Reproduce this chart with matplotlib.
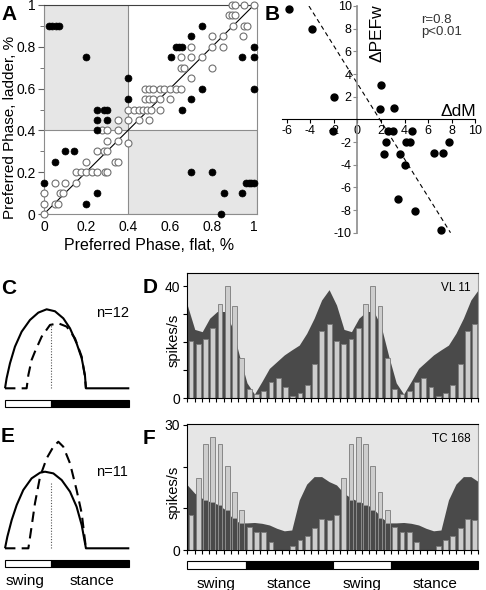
import numpy as np
import matplotlib
matplotlib.use("Agg")
import matplotlib.pyplot as plt
from matplotlib.patches import Rectangle

plt.rcParams['font.family'] = ['Liberation Sans', 'DejaVu Sans']

# ---------------- data ----------------
# Panel A: preferred phase flat vs ladder
a_filled_x = [0.025, 0.04, 0.055, 0.07, 0.2, 0.4, 0.4, 0.25, 0.285, 0.3, 0.25, 0.3, 0.25,
              0.1, 0.145, 0.053, 0.0, 0.25, 0.2, 0.75, 0.7, 0.63, 0.645, 0.655, 0.605,
              0.75, 0.7, 0.655, 1.0, 0.945, 1.0, 1.0, 0.7, 0.8, 0.855, 0.945, 0.845,
              0.96, 0.975, 0.988, 1.0]
a_filled_y = [0.9, 0.9, 0.9, 0.9, 0.75, 0.65, 0.55, 0.5, 0.5, 0.5, 0.45, 0.45, 0.4,
              0.3, 0.3, 0.25, 0.15, 0.1, 0.05, 0.9, 0.85, 0.8, 0.8, 0.8, 0.75,
              0.6, 0.55, 0.5, 0.8, 0.75, 0.75, 0.6, 0.2, 0.2, 0.1, 0.1, 0.0,
              0.15, 0.15, 0.15, 0.15]
a_open_x = [0.893, 0.909, 0.952, 1.0, 0.88, 0.895, 0.91, 0.9, 0.952, 0.968,
            0.8, 0.85, 0.947, 0.7, 0.8, 0.85, 0.65, 0.7, 0.75, 0.65, 0.667, 0.8, 0.7,
            0.48, 0.5, 0.52, 0.55, 0.57, 0.6, 0.63, 0.65,
            0.48, 0.5, 0.52, 0.55, 0.6,
            0.4, 0.43, 0.45, 0.47, 0.49, 0.51, 0.55,
            0.35, 0.4, 0.45, 0.5, 0.275, 0.3, 0.35, 0.4, 0.3, 0.35,
            0.25, 0.285, 0.3, 0.2, 0.34, 0.35,
            0.15, 0.177, 0.2, 0.23, 0.25, 0.29, 0.3,
            0.053, 0.1, 0.15, 0.0, 0.076, 0.092, 0.0, 0.053, 0.068, 0.0]
a_open_y = [1.0, 1.0, 1.0, 1.0, 0.95, 0.95, 0.95, 0.9, 0.9, 0.9,
            0.85, 0.85, 0.85, 0.8, 0.8, 0.8, 0.75, 0.75, 0.75, 0.7, 0.7, 0.7, 0.65,
            0.6, 0.6, 0.6, 0.6, 0.6, 0.6, 0.6, 0.6,
            0.55, 0.55, 0.55, 0.55, 0.55,
            0.5, 0.5, 0.5, 0.5, 0.5, 0.5, 0.5,
            0.45, 0.45, 0.45, 0.45, 0.4, 0.4, 0.4, 0.34, 0.35, 0.35,
            0.3, 0.3, 0.3, 0.25, 0.25, 0.25,
            0.2, 0.2, 0.2, 0.2, 0.2, 0.2, 0.2,
            0.15, 0.15, 0.15, 0.1, 0.1, 0.1, 0.05, 0.05, 0.05, 0.0]
a_ticks = [0, 0.2, 0.4, 0.6, 0.8, 1.0]
a_tick_labels = ['0', '0.2', '0.4', '0.6', '0.8', '1']

# Panel B: delta dM vs delta PEFw
b_x = [-5.8, -3.8, -2.0, -2.1, 2.0, 1.9, 3.1, 2.6, 3.0, 4.6, 2.4, 4.1, 4.5, 2.3, 3.6,
       4.0, 6.5, 7.3, 7.8, 3.45, 4.85, 7.1]
b_y = [9.7, 8.0, 2.0, -1.0, 3.0, 0.9, 1.0, -1.0, -1.0, -1.0, -2.0, -2.0, -2.0, -3.1, -3.1,
       -4.0, -3.0, -3.0, -2.0, -7.0, -8.1, -9.8]
b_fit_x = [-4.1, 7.9]
b_fit_y = [10.0, -10.0]
b_xticks = [-6, -4, -2, 0, 2, 4, 6, 8, 10]
b_yticks = [-10, -8, -6, -4, -2, 2, 4, 6, 8, 10]

# Panels C / E: schematic activity profiles (phase %, normalized amplitude)
c_solid_x = [0, 1.3, 4.0, 8.0, 13.4, 20.1, 26.8, 33.5, 40.2, 46.9, 52.3, 57.6, 61.7, 64.3, 65.1, 100]
c_solid_y = [0, 0.127, 0.316, 0.527, 0.717, 0.865, 0.958, 1.0, 0.975, 0.886, 0.759, 0.570, 0.380, 0.169, 0, 0]
c_dash_x = [0, 17.4, 18.8, 21.4, 24.1, 29.5, 36.2, 42.9, 49.6, 56.3, 61.7, 64.3, 65.1]
c_dash_y = [0, 0, 0.169, 0.359, 0.464, 0.654, 0.802, 0.823, 0.781, 0.633, 0.401, 0.148, 0]
e_solid_x = [0, 1.9, 5.4, 9.4, 14.7, 21.4, 28.2, 32.2, 38.9, 45.6, 52.3, 57.6, 61.7, 65.1, 100]
e_solid_y = [0, 0.152, 0.370, 0.565, 0.761, 0.913, 0.987, 1.0, 0.978, 0.891, 0.739, 0.543, 0.304, 0, 0]
e_dash_x = [0, 18.8, 21.4, 24.1, 28.2, 33.5, 38.9, 42.9, 46.9, 52.3, 57.6, 61.7, 64.3, 65.1]
e_dash_y = [0, 0, 0.283, 0.587, 0.935, 1.174, 1.326, 1.391, 1.326, 1.109, 0.761, 0.457, 0.109, 0]
ce_swing_end = 36.8
c_dotted_top = 0.82
e_dotted_top = 0.85

# Panels D / F: firing histograms (20 bins per cycle, two cycles shown)
d_bars = [20.5, 19.4, 21.2, 25.2, 33.6, 40.0, 33.0, 14.3, 3.3, 1.5, 2.6, 5.8, 7.3, 4.0, 1.0,
          1.8, 4.7, 12.3, 24.2, 26.4]
d_area = [33.3, 24.6, 23.8, 28.6, 31.0, 31.0, 25.5, 15.0, 5.5, 1.5, 6.0, 10.7, 13.1, 15.5,
          17.3, 19.0, 23.2, 28.6, 35.1, 38.8]
f_bars = [8.4, 17.2, 25.3, 27.0, 25.3, 20.1, 14.0, 9.5, 5.6, 4.2, 4.2, 2.0, 0, 0, 1.0, 2.4,
          3.3, 5.2, 7.4, 7.2]
f_area = [15.6, 13.6, 12.4, 11.6, 11.0, 9.8, 7.8, 6.5, 6.5, 6.6, 6.4, 6.0, 5.2, 4.6, 4.8,
          12.0, 15.8, 17.6, 17.6, 16.4]
f_bar_dark = [0, 0, 12.0, 11.4, 10.8, 9.6, 7.6, 6.4, 0, 0, 0, 0, 0, 0, 0, 0, 0, 0, 0, 0]
n_cycles = 2
phase_names = ['swing', 'stance']
phase_bins = [8, 12]
d_label = 'VL 11'
f_label = 'TC 168'

# ---------------- figure ----------------
W, H = 486, 590
fig = plt.figure(figsize=(W / 100, H / 100), dpi=100)


def add_ax(l, t, r, b):
    return fig.add_axes([l / W, 1 - b / H, (r - l) / W, (b - t) / H])


def ftext(px, py, s, **kw):
    return fig.text(px / W, 1 - py / H, s, **kw)


# ----- Panel A -----
axA = add_ax(44, 5, 44 + 210 * 1.015, 214)
axA.set_xlim(0, 1.015)
axA.set_ylim(0, 1)
axA.add_patch(Rectangle((0, 0.4), 0.4, 0.6, facecolor='#e6e6e6', edgecolor='#8c8c8c', lw=0.8, zorder=0))
axA.add_patch(Rectangle((0.4, 0), 0.615, 0.4, facecolor='#e6e6e6', edgecolor='#8c8c8c', lw=0.8, zorder=0))
axA.axline((0, 0), slope=1, color='black', lw=0.8, zorder=1)
axA.plot(a_open_x, a_open_y, 'o', ms=5, mfc='white', mec='#707070', mew=0.8, ls='none', clip_on=False, zorder=3)
axA.plot(a_filled_x, a_filled_y, 'o', ms=5, mfc='black', mec='black', mew=0.5, ls='none', clip_on=False, zorder=4)
for s in ['left', 'right', 'bottom']:
    axA.spines[s].set_color('#8c8c8c')
axA.spines['top'].set_color('#404040')
axA.set_xticks(a_ticks)
axA.set_xticklabels(a_tick_labels)
axA.set_yticks(a_ticks)
axA.set_yticklabels(a_tick_labels)
axA.set_yticks(np.arange(0.1, 1.0, 0.2), minor=True)
axA.tick_params(axis='y', which='major', length=4, color='#606060', labelsize=10, pad=2)
axA.tick_params(axis='y', which='minor', length=3, color='#606060')
axA.tick_params(axis='x', which='major', length=0, labelsize=10, pad=4)
ftext(149, 245, 'Preferred Phase, flat, %', ha='center', va='center', fontsize=11.5)
ftext(10, 127, 'Preferred Phase, ladder, %', ha='center', va='center', rotation=90, fontsize=11)
ftext(1, 15, 'A', fontsize=15, fontweight='bold', va='center')

# ----- Panel B -----
axB = add_ax(281.8, 6, 475.3, 232.7)
axB.set_xlim(-6.4, 10)
axB.set_ylim(-10, 10)
axB.spines['left'].set_position(('data', 0))
axB.spines['bottom'].set_position(('data', 0))
axB.spines['top'].set_visible(False)
axB.spines['right'].set_visible(False)
axB.spines['left'].set_color('#8c8c8c')
axB.spines['left'].set_linewidth(1.2)
axB.spines['bottom'].set_color('black')
axB.set_xticks(b_xticks)
axB.set_xticklabels([str(v) for v in b_xticks])
axB.set_yticks(b_yticks)
axB.set_yticklabels([str(v) for v in b_yticks])
axB.tick_params(axis='x', length=3, labelsize=9, pad=1, color='black')
axB.tick_params(axis='y', length=3, labelsize=9, pad=1, color='#8c8c8c')
axB.plot(b_fit_x, b_fit_y, ls=(0, (4, 3)), color='black', lw=0.8)
axB.plot(b_x, b_y, 'o', ms=5, color='black', ls='none', clip_on=False, zorder=4)
axB.text(0.72, 0.965, 'r=0.8\np<0.01', transform=axB.transAxes, fontsize=9.5, va='top', ha='left',
         linespacing=1.0, color='#333333')
ftext(476, 111, '\u0394dM', ha='right', va='center', fontsize=12.5)
ftext(377, 33, '\u0394PEFw', ha='center', va='center', rotation=90, fontsize=12.5)
ftext(265, 15, 'B', fontsize=15, fontweight='bold', va='center')


# ----- Panels C / E -----
def schematic(top, bottom, base_px, unit_px, sx, sy, dx, dy, dotted_top, label, label_xy, letter, letter_y,
              show_names):
    ax = add_ax(5, top, 129.3, bottom)
    ax.set_xlim(0, 100)
    ax.set_ylim((base_px - bottom) / unit_px, (base_px - top) / unit_px)
    ax.axis('off')
    ax.plot(sx, sy, color='black', lw=1.5, clip_on=False, solid_capstyle='butt')
    ax.plot(dx, dy, color='black', lw=1.5, ls=(0, (5, 3)), clip_on=False)
    ax.plot([ce_swing_end, ce_swing_end], [0, dotted_top], color='#555555', lw=0.8, ls=(0, (1, 1.5)))
    y0 = (base_px - (base_px + 18.4)) / unit_px
    hgt = 7.0 / unit_px
    ax.add_patch(Rectangle((0, y0), ce_swing_end, hgt, facecolor='white', edgecolor='black', lw=0.8,
                           clip_on=False))
    ax.add_patch(Rectangle((ce_swing_end, y0), 100 - ce_swing_end, hgt, facecolor='black', edgecolor='black',
                           lw=0.8, clip_on=False))
    ftext(label_xy[0], label_xy[1], label, ha='center', va='center', fontsize=10.5)
    ftext(1, letter_y, letter, fontsize=15, fontweight='bold', va='center')
    if show_names:
        ftext(25, base_px + 33, phase_names[0], ha='center', va='center', fontsize=11)
        ftext(91.7, base_px + 33, phase_names[1], ha='center', va='center', fontsize=11)
    return ax


schematic(296, 410, 388.3, 79.0, c_solid_x, c_solid_y, c_dash_x, c_dash_y, c_dotted_top,
          'n=12', (113, 313), 'C', 289, False)
schematic(436, 572, 548.3, 76.6, e_solid_x, e_solid_y, e_dash_x, e_dash_y, e_dotted_top,
          'n=11', (112, 472), 'E', 437, True)


# ----- Panels D / F -----
def histogram(top, zero_px, unit_px, bars, area, dark, ymax_tick, label, letter):
    ax = add_ax(187.3, top, 478.3, zero_px)
    nb = len(bars)
    ntot = nb * n_cycles
    ax.set_xlim(-0.5, ntot - 0.5)
    ax.set_ylim(0, (zero_px - top) / unit_px)
    ax.set_facecolor('#e6e6e6')
    xb = np.arange(ntot)
    hb = np.tile(bars, n_cycles)
    xa = -0.5 + np.arange(ntot) * ntot / (ntot - 1)
    ha_ = np.tile(area, n_cycles)
    ax.fill_between(xa, 0, ha_, color='#4a4a4a', lw=0, zorder=1)
    ax.bar(xb, hb, width=0.66, color='#cdcdcd', edgecolor='#7a7a7a', lw=0.6, zorder=2)
    hd = np.tile(dark, n_cycles)
    ax.bar(xb, hd, width=0.66, color='#4a4a4a', edgecolor='#9a9a9a', lw=0.5, zorder=3)
    ax.spines['top'].set_color('black')
    ax.spines['left'].set_color('black')
    ax.spines['bottom'].set_color('black')
    ax.spines['right'].set_color('#9a9a9a')
    ax.set_xticks(np.arange(-0.5, ntot, 1.0))
    ax.set_xticklabels([])
    ax.tick_params(axis='x', length=3, width=0.8, direction='out')
    yt = np.arange(0, ymax_tick + 1, 10)
    ax.set_yticks(yt)
    ax.set_yticklabels([str(int(v)) if v in (0, ymax_tick) else '' for v in yt])
    ax.tick_params(axis='y', length=3, width=0.8, labelsize=10, pad=2)
    ax.text(0.975, 0.93, label, transform=ax.transAxes, ha='right', va='top', fontsize=8.5)
    ftext(174, (top + zero_px) / 2 + 5, 'spikes/s', ha='center', va='center', rotation=90, fontsize=10.5)
    ftext(143, top + 14, letter, fontsize=15, fontweight='bold', va='center')
    return ax


histogram(273.3, 398.3, 2.8, d_bars, d_area, [0] * len(d_bars), 40, d_label, 'D')
histogram(424.3, 550.0, 4.17, f_bars, f_area, f_bar_dark, 30, f_label, 'F')

# swing / stance bar under F
axP = add_ax(187.3, 561, 478.3, 569.3)
ntot = len(f_bars) * n_cycles
axP.set_xlim(-0.5, ntot - 0.5)
axP.set_ylim(0, 1)
axP.axis('off')
start = -0.5
for c in range(n_cycles):
    for name, nbin in zip(phase_names, phase_bins):
        fc = 'white' if name == 'swing' else 'black'
        axP.add_patch(Rectangle((start, 0), nbin, 1, facecolor=fc, edgecolor='black', lw=0.8, clip_on=False))
        axP.text(start + nbin / 2, -0.95, name, ha='center', va='top', fontsize=11,
                 transform=axP.transData, clip_on=False)
        start += nbin

fig.savefig('out.png', dpi=100)
